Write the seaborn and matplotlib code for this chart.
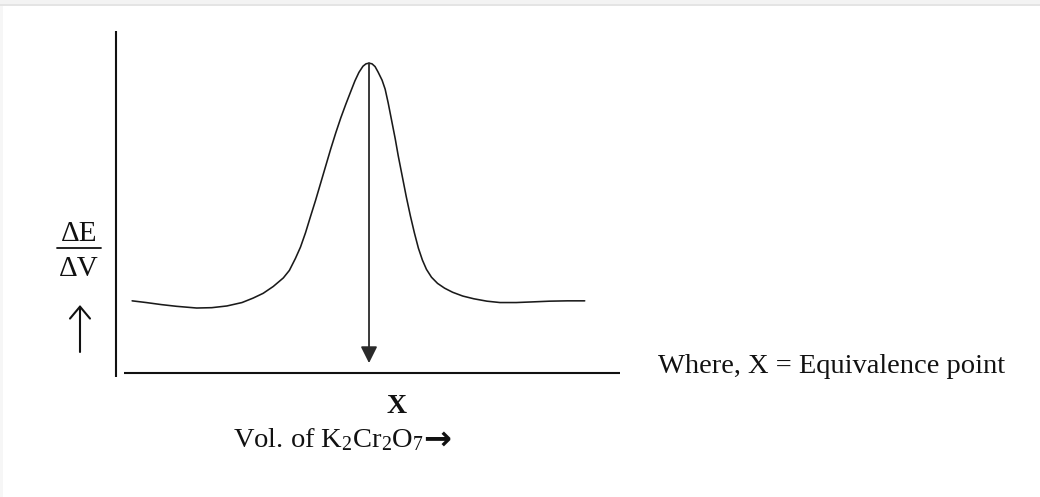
import matplotlib
matplotlib.use("Agg")
import matplotlib.pyplot as plt
import seaborn as sns
import pandas as pd
from matplotlib.patches import Rectangle, FancyArrowPatch

# Differential potentiometric titration curve (dE/dV vs. volume of titrant)
volume = [1.6, 3.0, 4.5, 6.0, 8.0, 9.5, 11.0, 12.5, 13.6, 14.6, 15.6, 16.6,
          17.2, 17.8, 18.3, 18.8, 19.3, 19.8, 20.3, 20.8, 21.3, 21.8, 22.3,
          22.8, 23.3, 23.7, 24.1, 24.5, 24.8, 25.1, 25.4, 25.7, 26.0, 26.4,
          26.7, 27.0, 27.3, 27.7, 28.0, 28.4, 28.8, 29.2, 29.6, 30.0, 30.4,
          30.8, 31.3, 31.9, 32.6, 33.4, 34.4, 35.5, 36.8, 38.1, 39.7, 41.4,
          43.0, 44.8, 46.5]
dE_dV = [21.1, 20.6, 20.0, 19.5, 19.0, 19.1, 19.6, 20.6, 21.9, 23.3, 25.3, 27.8,
         30.0, 33.5, 36.8, 41.0, 45.8, 50.5, 55.5, 60.5, 65.5, 70.2, 74.6,
         78.6, 82.4, 85.4, 87.9, 89.7, 90.4, 90.6, 90.4, 89.6, 88.0, 85.6,
         83.0, 79.0, 74.5, 68.5, 63.5, 57.5, 51.5, 46.0, 41.0, 36.5, 33.0,
         30.3, 28.0, 26.2, 24.8, 23.6, 22.5, 21.7, 21.0, 20.6, 20.6, 20.8,
         21.0, 21.1, 21.1]
equivalence_volume = 25.1

W, H = 1040, 497
sns.set_theme(style="white")
plt.rcParams["font.family"] = ["Liberation Serif", "DejaVu Serif"]
plt.rcParams["mathtext.fontset"] = "custom"
plt.rcParams["mathtext.rm"] = "Liberation Serif"
plt.rcParams["mathtext.it"] = "Liberation Serif:italic"
plt.rcParams["mathtext.bf"] = "Liberation Serif:bold"

fig = plt.figure(figsize=(W / 100, H / 100), dpi=100)
fig.patch.set_facecolor("white")

# thin grey page frame along the top and left edges
fig.patches.append(Rectangle((0, H - 4), W, 4, transform=None, facecolor="#f3f3f3",
                             edgecolor="none", zorder=0))
fig.patches.append(Rectangle((0, H - 5.5), W, 1.5, transform=None, facecolor="#e4e4e4",
                             edgecolor="none", zorder=0))
fig.patches.append(Rectangle((0, 0), 3, H - 5.5, transform=None, facecolor="#f6f6f6",
                             edgecolor="none", zorder=0))

# plotting frame: x from 116 to 620 px, y from 373 (bottom) to 31 (top) px
ax = fig.add_axes([116 / W, (H - 373) / H, 504 / W, 342 / H])
ax.set_xlim(0, 50)
ax.set_ylim(0, 100)
ax.set_axis_off()

df = pd.DataFrame({"volume": volume, "dE_dV": dE_dV})
sns.lineplot(data=df, x="volume", y="dE_dV", ax=ax, sort=False, color="#1a1a1a",
             linewidth=1.15, legend=False)

# axis lines (drawn separately, they do not meet at the origin)
ax.plot([0, 0], [-0.012, 1.0], transform=ax.transAxes, color="#111111", lw=1.5,
        clip_on=False, solid_capstyle="butt")
ax.plot([0.016, 1.0], [0, 0], transform=ax.transAxes, color="#111111", lw=1.5,
        clip_on=False, solid_capstyle="butt")

# arrow from the peak down to the equivalence point on the volume axis
peak = max(dE_dV)
ax.annotate("", xy=(equivalence_volume, 2.9), xytext=(equivalence_volume, peak),
            arrowprops=dict(arrowstyle="-|>,head_length=0.5,head_width=0.25",
                            mutation_scale=20, lw=1.3, color="#2a2a2a",
                            shrinkA=0, shrinkB=0))

# y label as a fraction ΔE / ΔV with an upward arrow
fig.text(79, H - 234, "ΔE", transform=None, ha="center", va="center",
         fontsize=21, color="#111111")
fig.add_artist(plt.Line2D([57, 101], [H - 248, H - 248], transform=None,
                          color="#111111", lw=1.3))
fig.text(79, H - 269, "ΔV", transform=None, ha="center", va="center",
         fontsize=21, color="#111111")
fig.add_artist(FancyArrowPatch(
    (80, H - 352), (80, H - 305), transform=None,
    arrowstyle="->,head_length=0.43,head_width=0.36", mutation_scale=20,
    lw=1.5, color="#111111", shrinkA=0, shrinkB=0))

# x label
fig.text(396.5, H - 413, "X", transform=None, ha="center", va="baseline",
         fontsize=20, fontweight="bold", color="#111111")
fig.text(233, H - 447, r"Vol. of K$_2$Cr$_2$O$_7$", transform=None,
         ha="left", va="baseline", fontsize=20.5, color="#111111")
fig.text(423, H - 449, "→", transform=None, ha="left", va="baseline",
         fontsize=24, fontweight="bold", family=["DejaVu Sans"], color="#111111")

# note on the right
fig.text(658, H - 373, "Where, X = Equivalence point", transform=None,
         ha="left", va="baseline", fontsize=20.5, color="#111111")

fig.savefig("out.png", dpi=100, facecolor="white")
